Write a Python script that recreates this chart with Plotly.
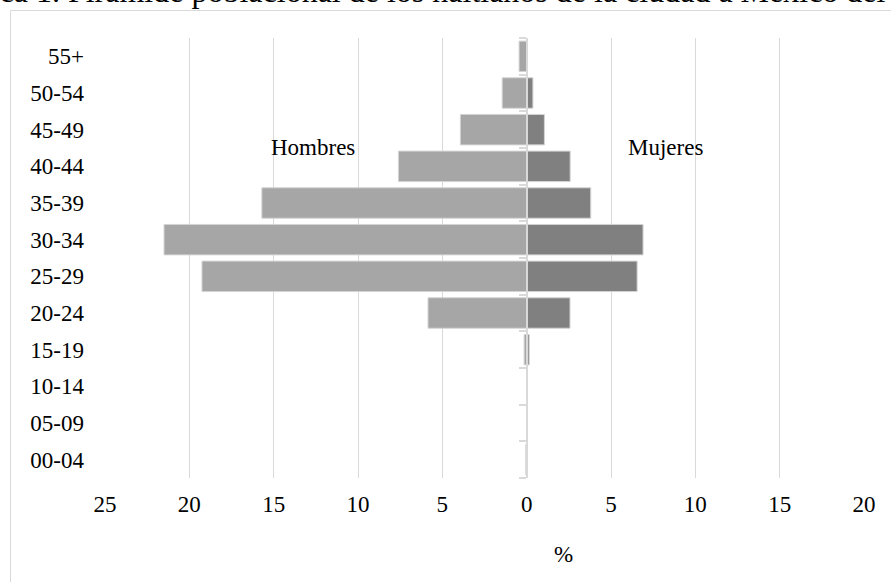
import plotly.graph_objects as go

# Age groups, bottom to top
grupos = ["00-04", "05-09", "10-14", "15-19", "20-24", "25-29",
          "30-34", "35-39", "40-44", "45-49", "50-54", "55+"]

# Share of population (%) by sex
hombres = [0.05, 0.0, 0.0, 0.15, 5.85, 19.25, 21.5, 15.7, 7.6, 3.93, 1.45, 0.45]
mujeres = [0.0, 0.0, 0.0, 0.15, 2.57, 6.55, 6.9, 3.8, 2.58, 1.05, 0.37, 0.0]

x_ticks = [-25, -20, -15, -10, -5, 0, 5, 10, 15, 20]
x_ticktext = ["25", "20", "15", "10", "5", "0", "5", "10", "15", "20"]

FONT = "Liberation Serif, Times New Roman, serif"
W, H = 891, 582
ML, MR, MT, MB = 105, 27, 38, 104
XMIN, XMAX = -25, 20


def px_x(p):
    return (p - ML) / (W - ML - MR)


def px_y(p):
    return (H - MB - p) / (H - MT - MB)


fig = go.Figure()

fig.add_trace(go.Bar(
    y=grupos, x=[-v for v in hombres], orientation="h", name="Hombres",
    marker=dict(color="#a6a6a6", line=dict(color="#d4d4d4", width=1)),
    hoverinfo="skip",
))
fig.add_trace(go.Bar(
    y=grupos, x=mujeres, orientation="h", name="Mujeres",
    marker=dict(color="#808080", line=dict(color="#d4d4d4", width=1)),
    hoverinfo="skip",
))
# carrier for the category axis drawn at zero
fig.add_trace(go.Scatter(
    y=grupos, x=[0] * len(grupos), yaxis="y2", mode="markers",
    marker=dict(opacity=0), hoverinfo="skip", showlegend=False,
))

fig.update_layout(
    width=W, height=H,
    margin=dict(l=ML, r=MR, t=MT, b=MB),
    paper_bgcolor="white", plot_bgcolor="white",
    barmode="overlay", bargap=0.17,
    showlegend=False,
    font=dict(family=FONT, size=23, color="#000000"),
    xaxis=dict(
        range=[XMIN, XMAX], tickvals=x_ticks, ticktext=x_ticktext,
        showgrid=True, gridcolor="#d9d9d9", gridwidth=1,
        zeroline=False, showline=False, ticks="",
        ticklabelstandoff=10,
        tickfont=dict(family=FONT, size=23, color="#000000"),
    ),
    yaxis=dict(
        type="category", categoryorder="array", categoryarray=grupos,
        range=[-0.5, len(grupos) - 0.5],
        showgrid=False, zeroline=False, showline=False, ticks="",
        ticklabelstandoff=20,
        tickfont=dict(family=FONT, size=23, color="#000000"),
    ),
    yaxis2=dict(
        type="category", categoryorder="array", categoryarray=grupos,
        range=[-0.5, len(grupos) - 0.5],
        overlaying="y", anchor="free",
        position=(0 - XMIN) / (XMAX - XMIN),
        showline=True, linecolor="#d9d9d9", linewidth=1.5,
        ticks="outside", tickson="boundaries", ticklen=7,
        tickcolor="#d9d9d9", tickwidth=1.5,
        showticklabels=False, showgrid=False, zeroline=False,
        layer="above traces",
    ),
    shapes=[dict(
        type="rect", xref="paper", yref="paper",
        x0=px_x(10.5), x1=px_x(W + 20), y0=px_y(H + 20), y1=px_y(10.5),
        line=dict(color="#d9d9d9", width=1), fillcolor="rgba(0,0,0,0)",
        layer="below",
    )],
    annotations=[
        dict(text="Hombres", x=-12.66, y=px_y(133), xref="x", yref="paper",
             showarrow=False, font=dict(family=FONT, size=23, color="#000000")),
        dict(text="Mujeres", x=8.21, y=px_y(133), xref="x", yref="paper",
             showarrow=False, font=dict(family=FONT, size=23, color="#000000")),
        dict(text="%", x=px_x(563), y=px_y(569), xref="paper", yref="paper",
             showarrow=False, font=dict(family=FONT, size=23, color="#000000")),
        dict(text="Gráfica 1. Pirámide poblacional de los haitianos de la ciudad a México del",
             x=px_x(888), y=px_y(-9), xref="paper", yref="paper",
             xanchor="right", yanchor="middle", showarrow=False,
             font=dict(family=FONT, size=32, color="#000000")),
    ],
)

fig.write_html("out.html")
